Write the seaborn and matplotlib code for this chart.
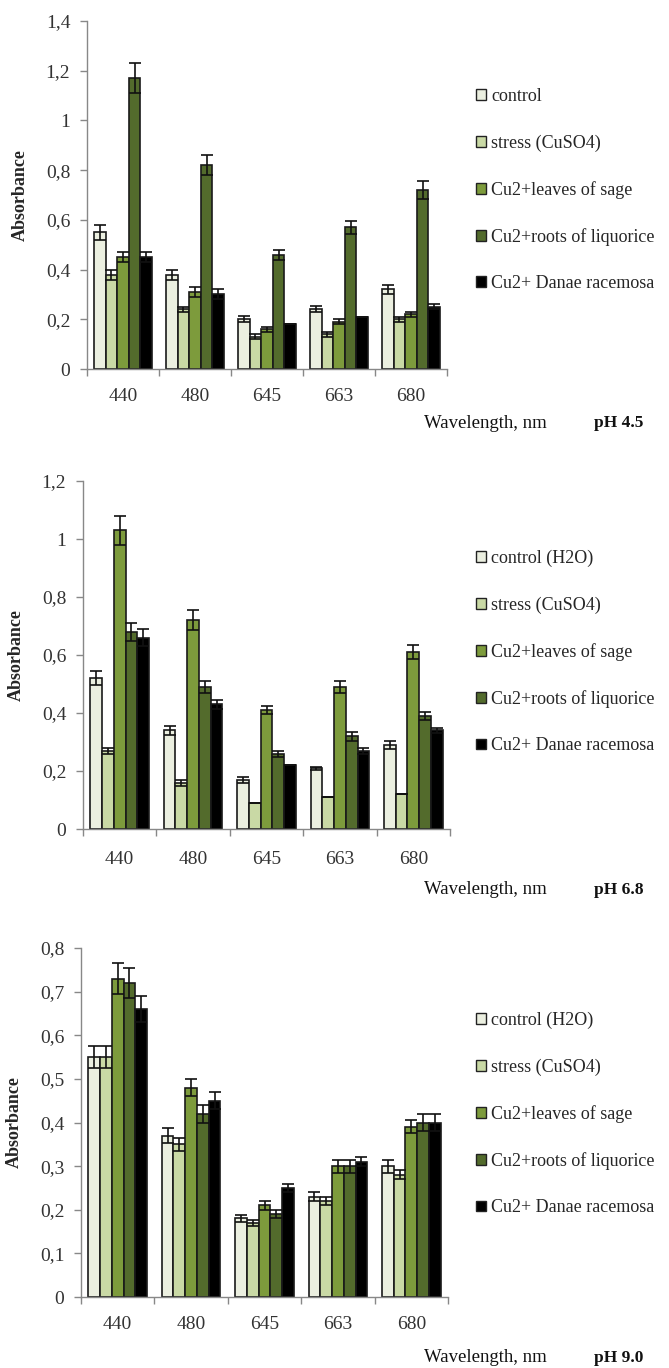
import matplotlib
matplotlib.use("Agg")
import matplotlib.pyplot as plt
import seaborn as sns
import pandas as pd
import numpy as np
from matplotlib.patches import Patch
from matplotlib.ticker import FuncFormatter, FixedLocator, MultipleLocator

wavelengths = ["440", "480", "645", "663", "680"]
groups = ["control", "stress", "sage", "liquorice", "danae"]
colors = ["#EBEFE0", "#C9D9A5", "#7D9B3C", "#536B2C", "#000000"]

# pH 4.5
ph45_control = [0.55, 0.38, 0.20, 0.24, 0.32]
ph45_stress = [0.38, 0.24, 0.13, 0.14, 0.20]
ph45_sage = [0.45, 0.31, 0.16, 0.19, 0.22]
ph45_liquorice = [1.17, 0.82, 0.46, 0.57, 0.72]
ph45_danae = [0.45, 0.30, 0.18, 0.21, 0.25]
ph45_err_control = [0.03, 0.02, 0.012, 0.012, 0.017]
ph45_err_stress = [0.02, 0.01, 0.01, 0.01, 0.01]
ph45_err_sage = [0.02, 0.02, 0.01, 0.01, 0.01]
ph45_err_liquorice = [0.06, 0.04, 0.02, 0.025, 0.035]
ph45_err_danae = [0.02, 0.02, 0.0, 0.0, 0.01]

# pH 6.8
ph68_control = [0.52, 0.34, 0.17, 0.21, 0.29]
ph68_stress = [0.27, 0.16, 0.09, 0.11, 0.12]
ph68_sage = [1.03, 0.72, 0.41, 0.49, 0.61]
ph68_liquorice = [0.68, 0.49, 0.26, 0.32, 0.39]
ph68_danae = [0.66, 0.43, 0.22, 0.27, 0.34]
ph68_err_control = [0.025, 0.015, 0.01, 0.005, 0.015]
ph68_err_stress = [0.01, 0.01, 0.0, 0.0, 0.0]
ph68_err_sage = [0.05, 0.035, 0.015, 0.02, 0.025]
ph68_err_liquorice = [0.03, 0.02, 0.01, 0.015, 0.015]
ph68_err_danae = [0.03, 0.015, 0.0, 0.01, 0.01]

# pH 9.0
ph90_control = [0.55, 0.37, 0.18, 0.23, 0.30]
ph90_stress = [0.55, 0.35, 0.17, 0.22, 0.28]
ph90_sage = [0.73, 0.48, 0.21, 0.30, 0.39]
ph90_liquorice = [0.72, 0.42, 0.19, 0.30, 0.40]
ph90_danae = [0.66, 0.45, 0.25, 0.31, 0.40]
ph90_err_control = [0.025, 0.017, 0.008, 0.01, 0.015]
ph90_err_stress = [0.025, 0.015, 0.007, 0.01, 0.01]
ph90_err_sage = [0.035, 0.02, 0.01, 0.015, 0.015]
ph90_err_liquorice = [0.035, 0.02, 0.01, 0.015, 0.02]
ph90_err_danae = [0.03, 0.02, 0.01, 0.01, 0.02]

legend1 = ["control", "stress (CuSO4)", "Cu2+leaves of sage",
           "Cu2+roots of liquorice", "Cu2+ Danae racemosa"]
legend23 = ["control (H2O)", "stress (CuSO4)", "Cu2+leaves of sage",
            "Cu2+roots of liquorice", "Cu2+ Danae racemosa"]

panels = [
    dict(vals=[ph45_control, ph45_stress, ph45_sage, ph45_liquorice, ph45_danae],
         errs=[ph45_err_control, ph45_err_stress, ph45_err_sage, ph45_err_liquorice, ph45_err_danae],
         ymax=1.4, step=0.2, labels=legend1, ph="pH 4.5",
         rect=[87/669, 1-369/1368, 360/669, 348/1368], leg_y=88, lab_y=423, pad=14),
    dict(vals=[ph68_control, ph68_stress, ph68_sage, ph68_liquorice, ph68_danae],
         errs=[ph68_err_control, ph68_err_stress, ph68_err_sage, ph68_err_liquorice, ph68_err_danae],
         ymax=1.2, step=0.2, labels=legend23, ph="pH 6.8",
         rect=[83/669, 1-829/1368, 367/669, 348/1368], leg_y=550, lab_y=890, pad=16),
    dict(vals=[ph90_control, ph90_stress, ph90_sage, ph90_liquorice, ph90_danae],
         errs=[ph90_err_control, ph90_err_stress, ph90_err_sage, ph90_err_liquorice, ph90_err_danae],
         ymax=0.8, step=0.1, labels=legend23, ph="pH 9.0",
         rect=[81/669, 1-1297/1368, 367/669, 349/1368], leg_y=1012, lab_y=1358, pad=14),
]

sns.set_theme(style="white")
plt.rcParams['font.family'] = ['Liberation Serif', 'DejaVu Serif']

W, H = 669, 1368
fig = plt.figure(figsize=(W/100, H/100), dpi=100)

def fmt(v, pos):
    s = f"{v:.1f}"
    if s.endswith(".0"):
        s = s[:-2]
    return s.replace(".", ",")

for p in panels:
    ax = fig.add_axes(p["rect"])
    rows = []
    for g, vs in zip(groups, p["vals"]):
        for w, v in zip(wavelengths, vs):
            rows.append(dict(wl=w, grp=g, val=v))
    df = pd.DataFrame(rows)
    sns.barplot(data=df, x="wl", y="val", hue="grp", order=wavelengths,
                hue_order=groups, palette=colors, errorbar=None, width=0.8,
                edgecolor="#1a1a1a", linewidth=1.2, ax=ax, legend=False,
                saturation=1)
    for cont, es in zip(ax.containers, p["errs"]):
        xs = [b.get_x() + b.get_width()/2 for b in cont]
        hs = [b.get_height() for b in cont]
        ax.errorbar(xs, hs, yerr=es, fmt="none", ecolor="#111111",
                    elinewidth=1.2, capsize=4, capthick=1.2)
    ax.set_xlim(-0.5, 4.5)
    ax.set_ylim(0, p["ymax"])
    ax.yaxis.set_major_locator(MultipleLocator(p["step"]))
    ax.yaxis.set_major_formatter(FuncFormatter(fmt))
    ax.set_xlabel("")
    ax.set_ylabel("Absorbance", fontsize=13, fontweight="bold", labelpad=12)
    for s in ["top", "right"]:
        ax.spines[s].set_visible(False)
    for s in ["left", "bottom"]:
        ax.spines[s].set_color("#888888")
        ax.spines[s].set_linewidth(1.0)
    ax.xaxis.set_minor_locator(FixedLocator([-0.5, 0.5, 1.5, 2.5, 3.5, 4.5]))
    ax.tick_params(axis="x", which="major", length=0, pad=p["pad"], labelsize=14,
                   labelcolor="#333333")
    ax.tick_params(axis="x", which="minor", length=5, width=1, color="#888888",
                   direction="out", bottom=True)
    ax.tick_params(axis="y", length=5, width=1, color="#888888", direction="out",
                   left=True, labelsize=14, labelcolor="#333333", pad=7)
    handles = [Patch(facecolor=c, edgecolor="#222222", linewidth=1) for c in colors]
    fig.legend(handles, p["labels"], loc="upper left",
               bbox_to_anchor=(476/W, 1 - p["leg_y"]/H), frameon=False,
               fontsize=13, labelspacing=1.62, handlelength=0.55,
               handleheight=0.55, handletextpad=0.3, borderaxespad=0,
               borderpad=0)
    fig.text(485/W, 1 - p["lab_y"]/H, "Wavelength, nm", fontsize=13.5,
             ha="center", va="center", color="#111111")
    fig.text(619/W, 1 - p["lab_y"]/H, p["ph"], fontsize=12.5, fontweight="bold",
             ha="center", va="center", color="#111111")

fig.savefig("out.png", dpi=100)
